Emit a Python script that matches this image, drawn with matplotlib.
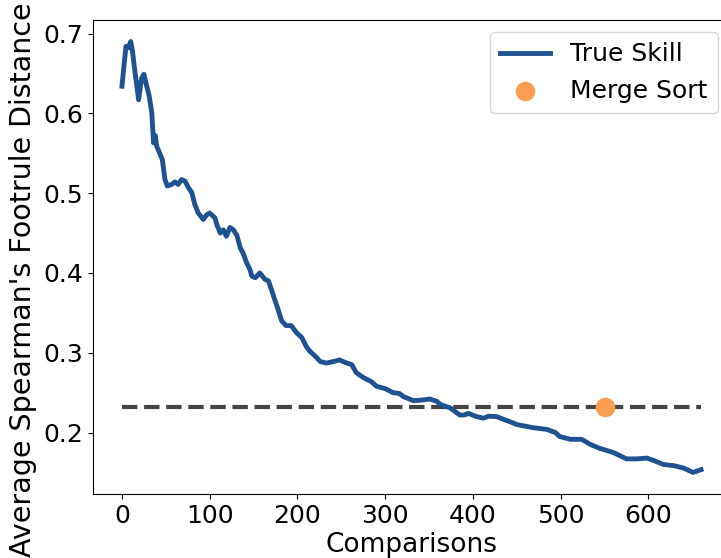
import matplotlib
matplotlib.use("Agg")
import matplotlib.pyplot as plt

# Average footrule distance of the TrueSkill ranking after each comparison
comparisons = [
    0, 2.6, 4.6, 7, 10, 12, 14, 17, 19, 20.5, 22.4, 25, 28, 31, 34, 36, 38, 39.5,
    43, 46, 49, 51.7, 56.7, 60.4, 64, 68, 72, 75.6, 79.5, 83, 87, 92.7, 96.6, 100,
    106, 108, 112, 115.5, 119, 123, 127, 131, 135, 138, 142, 146, 148, 152, 157,
    163, 167, 171, 174, 178, 182, 187, 193, 199, 205, 210, 214, 220, 226, 233,
    241, 248, 254, 262, 267, 275, 284, 290, 300, 309, 316, 321, 332, 340, 351,
    359, 363, 374, 385, 390, 395, 404, 412, 418, 427, 435, 446, 450, 469, 484,
    494, 499, 511, 524, 534, 545, 560, 575, 587, 598, 606, 617, 629, 640, 651,
    656, 660,
]
trueskill_dist = [
    0.634, 0.663, 0.684, 0.682, 0.690, 0.678, 0.659, 0.634, 0.617, 0.630, 0.644,
    0.649, 0.635, 0.622, 0.601, 0.563, 0.572, 0.559, 0.550, 0.542, 0.517, 0.509,
    0.511, 0.514, 0.511, 0.517, 0.515, 0.507, 0.501, 0.486, 0.475, 0.467, 0.473,
    0.475, 0.469, 0.461, 0.450, 0.454, 0.446, 0.457, 0.454, 0.447, 0.431, 0.425,
    0.413, 0.404, 0.396, 0.394, 0.400, 0.392, 0.390, 0.377, 0.367, 0.354, 0.340,
    0.334, 0.334, 0.325, 0.319, 0.308, 0.302, 0.296, 0.289, 0.287, 0.289, 0.291,
    0.288, 0.285, 0.275, 0.269, 0.264, 0.258, 0.255, 0.250, 0.249, 0.245, 0.240,
    0.2405, 0.242, 0.239, 0.235, 0.231, 0.222, 0.222, 0.224, 0.220, 0.218,
    0.2205, 0.220, 0.2165, 0.212, 0.210, 0.206, 0.204, 0.200, 0.195, 0.1915,
    0.1915, 0.185, 0.180, 0.175, 0.167, 0.167, 0.168, 0.165, 0.160, 0.1585,
    0.1555, 0.150, 0.152, 0.1535,
]

# Merge sort result: number of comparisons used and its final distance
merge_sort_comparisons = 550
merge_sort_dist = 0.232

fig = plt.figure(figsize=(7.21, 5.58), dpi=100)
ax = fig.add_axes([0.129, 0.1147, 0.8835, 0.8495])

ax.hlines(merge_sort_dist, comparisons[0], comparisons[-1], colors="#444444",
          linestyles="--", linewidth=3, zorder=1)
ax.plot(comparisons, trueskill_dist, color="#1f5290", linewidth=3.5,
        label="True Skill", zorder=2)
ax.scatter([merge_sort_comparisons], [merge_sort_dist], s=170, color="#fb9d50",
           label="Merge Sort", zorder=3)

ax.set_xlabel("Comparisons", fontsize=19)
ax.set_ylabel("Average Spearman's Footrule Distance", fontsize=20.5)
ax.yaxis.set_label_coords(-0.088, 0.452)
ax.xaxis.set_label_coords(0.5, -0.08)
ax.tick_params(axis="both", labelsize=18)
ax.legend(fontsize=18, loc="upper right")

fig.savefig("out.png", dpi=100)
plt.close(fig)
